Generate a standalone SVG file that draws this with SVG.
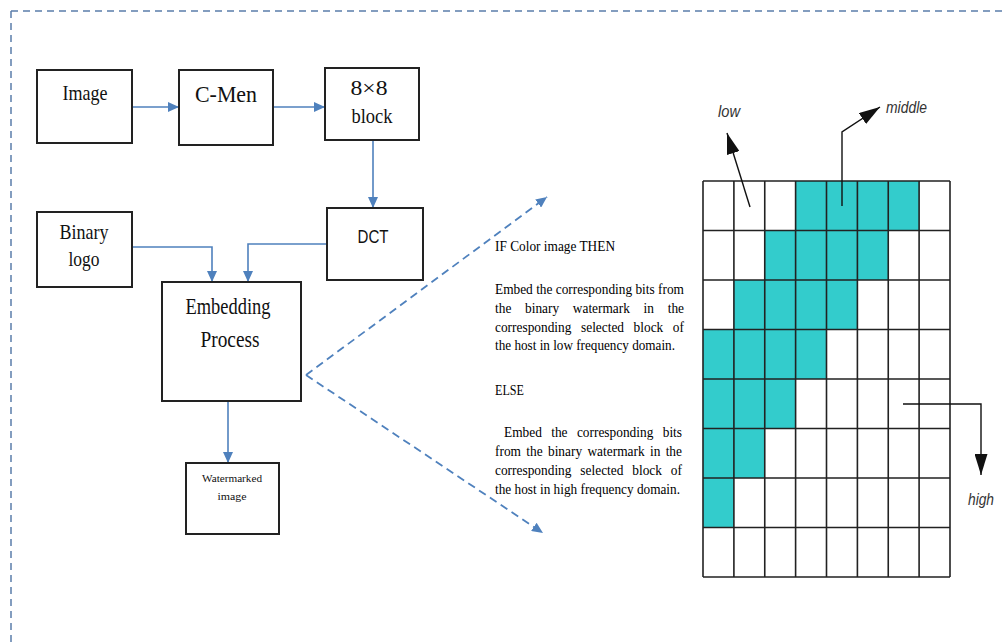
<svg xmlns="http://www.w3.org/2000/svg" width="1007" height="643" viewBox="0 0 1007 643">
<defs>
<style>
.box{fill:#fff;stroke:#222;stroke-width:2}
.t{font-family:"Liberation Serif","Times New Roman",serif;fill:#111;text-anchor:middle}
.s{font-family:"Liberation Sans",Arial,sans-serif;fill:#111;text-anchor:middle}
.p{font-family:"Liberation Serif","Times New Roman",serif;font-size:15px;fill:#000}
.lab{font-family:"Liberation Sans",Arial,sans-serif;font-style:italic;font-size:17px;fill:#333}
.con{fill:none;stroke:#4F81BD;stroke-width:1.6}
.dash{fill:none;stroke:#4F81BD;stroke-width:1.8;stroke-dasharray:8 5}
.blk{fill:none;stroke:#111;stroke-width:1.4}
.cell{fill:#33CCCC}
.grid{stroke:#222;stroke-width:1.6;fill:none}
</style>
<marker id="ab" markerUnits="userSpaceOnUse" markerWidth="11" markerHeight="10" refX="11" refY="5" orient="auto">
<path d="M0,0 L11,5 L0,10 z" fill="#4F81BD"/>
</marker>
<marker id="ak" markerUnits="userSpaceOnUse" markerWidth="21" markerHeight="13" refX="21" refY="6.5" orient="auto">
<path d="M0,0 L21,6.5 L0,13 z" fill="#111"/>
</marker>
</defs>
<rect width="1007" height="643" fill="#fff"/>
<path d="M11,11 H1007 M11,11 V643" fill="none" stroke="#5B7DAA" stroke-width="1.5" stroke-dasharray="7 5"/>

<g id="connectors">
<path class="con" d="M132,107 H179" marker-end="url(#ab)"/>
<path class="con" d="M273,107 H325" marker-end="url(#ab)"/>
<path class="con" d="M373,140 V208" marker-end="url(#ab)"/>
<path class="con" d="M132,247 H212 V282" marker-end="url(#ab)"/>
<path class="con" d="M327,244 H248 V282" marker-end="url(#ab)"/>
<path class="con" d="M228,401 V463" marker-end="url(#ab)"/>
<path class="dash" d="M306,375 L547,197" marker-end="url(#ab)"/>
<path class="dash" d="M306,375 L543,533" marker-end="url(#ab)"/>
</g>

<g id="node-image">
<rect class="box" x="37" y="70" width="95" height="73"/>
<text class="t" x="85" y="100" font-size="21" textLength="45" lengthAdjust="spacingAndGlyphs">Image</text>
</g>
<g id="node-cmen">
<rect class="box" x="179" y="70" width="94" height="75"/>
<text class="t" x="226" y="102" font-size="24" textLength="62" lengthAdjust="spacingAndGlyphs">C-Men</text>
</g>
<g id="node-block">
<rect class="box" x="325" y="68" width="94" height="72"/>
<text class="t" x="369" y="95" font-size="20" textLength="37" lengthAdjust="spacingAndGlyphs">8×8</text>
<text class="t" x="372" y="123" font-size="21" textLength="41" lengthAdjust="spacingAndGlyphs">block</text>
</g>
<g id="node-dct">
<rect class="box" x="327" y="208" width="96" height="72"/>
<text class="s" x="373" y="243" font-size="19" textLength="31" lengthAdjust="spacingAndGlyphs">DCT</text>
</g>
<g id="node-binary">
<rect class="box" x="37" y="212" width="95" height="75"/>
<text class="t" x="84" y="239" font-size="21" textLength="49" lengthAdjust="spacingAndGlyphs">Binary</text>
<text class="t" x="84" y="266" font-size="21" textLength="31" lengthAdjust="spacingAndGlyphs">logo</text>
</g>
<g id="node-embedding">
<rect class="box" x="162" y="282" width="139" height="119"/>
<text class="t" x="228" y="314" font-size="24" textLength="85" lengthAdjust="spacingAndGlyphs">Embedding</text>
<text class="t" x="230" y="347" font-size="24" textLength="59" lengthAdjust="spacingAndGlyphs">Process</text>
</g>
<g id="node-watermarked">
<rect class="box" x="186" y="463" width="93" height="71"/>
<text class="t" x="232" y="482" font-size="10" textLength="60" lengthAdjust="spacingAndGlyphs">Watermarked</text>
<text class="t" x="232" y="500" font-size="10" textLength="29" lengthAdjust="spacingAndGlyphs">image</text>
</g>

<g id="node-rule" class="p">
<text x="495" y="251" textLength="120" lengthAdjust="spacingAndGlyphs">IF Color image THEN</text>
<text x="495" y="294" textLength="189" lengthAdjust="spacingAndGlyphs">Embed the corresponding bits from</text>
<text x="495" y="313" word-spacing="11.6" textLength="189" lengthAdjust="spacingAndGlyphs">the binary watermark in the</text>
<text x="495" y="332" word-spacing="7" textLength="189" lengthAdjust="spacingAndGlyphs">corresponding selected block of</text>
<text x="495" y="350" textLength="180" lengthAdjust="spacingAndGlyphs">the host in low frequency domain.</text>
<text x="495" y="395" textLength="29" lengthAdjust="spacingAndGlyphs">ELSE</text>
<text x="504" y="437" word-spacing="6.8" textLength="178" lengthAdjust="spacingAndGlyphs">Embed the corresponding bits</text>
<text x="495" y="456" word-spacing="2.2" textLength="187" lengthAdjust="spacingAndGlyphs">from the binary watermark in the</text>
<text x="495" y="475" word-spacing="6.2" textLength="187" lengthAdjust="spacingAndGlyphs">corresponding selected block of</text>
<text x="495" y="494" textLength="185" lengthAdjust="spacingAndGlyphs">the host in high frequency domain.</text>
</g>

<g id="node-grid">
<rect class="cell" x="795.6" y="181" width="123.5" height="49.5"/>
<rect class="cell" x="764.75" y="230.5" width="123.5" height="49.5"/>
<rect class="cell" x="733.9" y="280" width="123.5" height="49.5"/>
<rect class="cell" x="703" y="329.5" width="123.5" height="49.5"/>
<rect class="cell" x="703" y="379" width="92.6" height="49.5"/>
<rect class="cell" x="703" y="428.5" width="61.75" height="49.5"/>
<rect class="cell" x="703" y="478" width="30.9" height="49.5"/>
<path class="grid" d="M703,181 H950 M703,230.5 H950 M703,280 H950 M703,329.5 H950 M703,379 H950 M703,428.5 H950 M703,478 H950 M703,527.5 H950 M703,577 H950 M703,181 V577 M733.9,181 V577 M764.75,181 V577 M795.6,181 V577 M826.5,181 V577 M857.4,181 V577 M888.25,181 V577 M919.1,181 V577 M950,181 V577"/>
</g>

<g id="node-low">
<path class="blk" d="M750,207 L727,133" marker-end="url(#ak)"/>
<text class="lab" x="718" y="117" textLength="22" lengthAdjust="spacingAndGlyphs">low</text>
</g>
<g id="node-middle">
<path class="blk" d="M842,206 V132 L880,107" marker-end="url(#ak)"/>
<text class="lab" x="886" y="113" textLength="41" lengthAdjust="spacingAndGlyphs">middle</text>
</g>
<g id="node-high">
<path class="blk" d="M903,404 H981 V475" marker-end="url(#ak)"/>
<text class="lab" x="968" y="505" textLength="26" lengthAdjust="spacingAndGlyphs">high</text>
</g>
</svg>
